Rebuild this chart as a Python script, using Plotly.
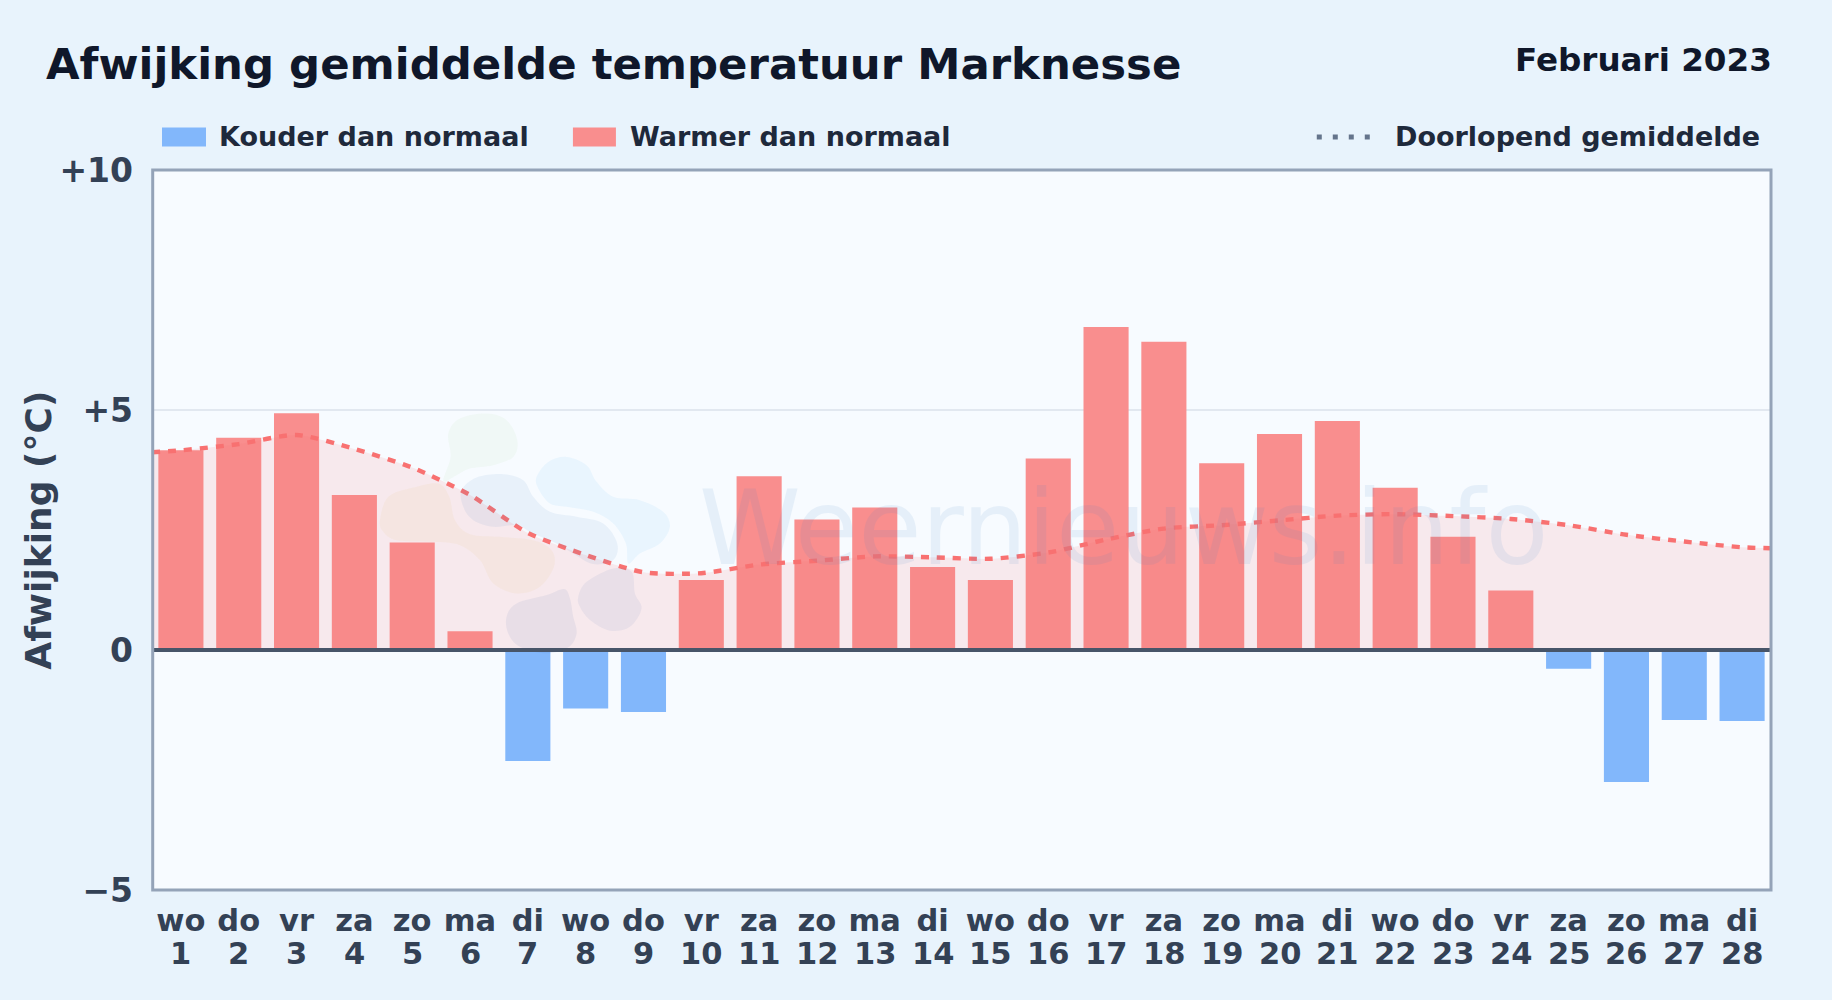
import plotly.graph_objects as go

dagen = ["wo","do","vr","za","zo","ma","di","wo","do","vr","za","zo","ma","di","wo","do","vr","za","zo","ma","di","wo","do","vr","za","zo","ma","di"]
nummers = list(range(1, 29))
afwijking = [4.16,4.42,4.93,3.23,2.24,0.39,-2.31,-1.22,-1.29,1.46,3.62,2.72,2.97,1.73,1.46,3.99,6.73,6.42,3.89,4.50,4.77,3.38,2.36,1.24,-0.39,-2.75,-1.46,-1.48]
lijn_x = [-0.5] + list(range(28)) + [27.5]
gemiddelde = [4.12,4.16,4.29,4.48,4.19,3.80,3.23,2.44,1.98,1.62,1.60,1.78,1.86,1.95,1.93,1.90,2.03,2.30,2.53,2.60,2.70,2.80,2.83,2.79,2.73,2.60,2.40,2.26,2.14,2.12]
y_ticks = [-5, 0, 5, 10]
y_labels = ["−5", "0", "+5", "+10"]

W, H = 1832, 1000
ML, MR, MT, MB = 152.0, 60.7, 169.5, 109.8
FONT = "DejaVu Sans"
# page pixels to plot-relative paper coordinates (decorations only)
def px(x): return (x - ML) / (W - ML - MR)
def py(y): return 1 - (y - MT) / (H - MT - MB)

warm = [v if v >= 0 else None for v in afwijking]
koud = [v if v < 0 else None for v in afwijking]
xs = list(range(28))

fig = go.Figure()
fig.add_trace(go.Bar(x=xs, y=warm, width=0.78, marker=dict(color="#f98e8e", line_width=0), name="Warmer dan normaal", showlegend=False))
fig.add_trace(go.Bar(x=xs, y=koud, width=0.78, marker=dict(color="#82b7fb", line_width=0), name="Kouder dan normaal", showlegend=False))
fig.add_trace(go.Scatter(x=lijn_x, y=gemiddelde, mode="lines", name="Doorlopend gemiddelde", showlegend=False,
                         line=dict(color="#f87171", width=4.4, dash="8px,8px", shape="spline", smoothing=0.7),
                         fill="tozeroy", fillcolor="rgba(248,113,113,0.13)"))

def blob(zoom_pts, fill):
    pts = [(360 + a / 3, 390 + b / 3) for a, b in zoom_pts]
    n = len(pts)
    d = f"M{px(pts[0][0]):.5f},{py(pts[0][1]):.5f}"
    for i in range(n):
        p0, p1, p2, p3 = pts[i - 1], pts[i], pts[(i + 1) % n], pts[(i + 2) % n]
        c1 = (p1[0] + (p2[0] - p0[0]) / 6, p1[1] + (p2[1] - p0[1]) / 6)
        c2 = (p2[0] - (p3[0] - p1[0]) / 6, p2[1] - (p3[1] - p1[1]) / 6)
        d += f" C{px(c1[0]):.5f},{py(c1[1]):.5f} {px(c2[0]):.5f},{py(c2[1]):.5f} {px(p2[0]):.5f},{py(p2[1]):.5f}"
    return dict(type="path", xref="paper", yref="paper", path=d + " Z", fillcolor=fill, line_width=0, layer="above")

shapes = [
    blob([(265,130),(300,85),(380,70),(440,90),(472,150),(460,200),(400,225),(330,235),(290,255),(250,272),(272,200)], "rgba(134,197,100,0.06)"),
    blob([(60,390),(85,320),(160,292),(235,280),(268,320),(285,390),(330,432),(420,440),(520,450),(575,480),(582,530),(540,590),(470,610),(400,580),(360,510),(300,465),(220,455),(110,450),(70,425)], "rgba(235,185,90,0.08)"),
    blob([(305,300),(350,262),(430,252),(490,270),(520,320),(570,365),(650,380),(730,400),(772,460),(760,510),(700,522),(640,490),(590,460),(520,430),(470,405),(400,410),(340,390),(310,350)], "rgba(59,130,190,0.08)"),
    blob([(530,260),(565,215),(620,200),(680,225),(710,275),(760,320),(840,330),(910,365),(930,410),(900,460),(840,490),(805,520),(798,460),(760,400),(700,365),(620,350),(570,340),(535,295)], "rgba(56,170,245,0.07)"),
    blob([(440,680),(470,640),(560,615),(612,597),(630,625),(640,680),(650,730),(625,772),(560,790),(480,770),(445,730)], "rgba(60,100,170,0.08)"),
    blob([(655,620),(680,575),(760,535),(815,545),(825,610),(845,655),(810,710),(750,722),(690,690),(660,650)], "rgba(60,100,170,0.07)"),
    dict(type="line", xref="paper", yref="y", x0=0, x1=1, y0=0, y1=0, line=dict(color="#475569", width=4), layer="above"),
    dict(type="rect", xref="paper", yref="paper", x0=px(152.7), x1=1, y0=0, y1=1, line=dict(color="#94a3b8", width=3), layer="above"),
    dict(type="rect", xref="paper", yref="paper", x0=px(162), x1=px(206), y0=py(146), y1=py(127), fillcolor="#82b7fb", line_width=0),
    dict(type="rect", xref="paper", yref="paper", x0=px(573), x1=px(616), y0=py(146), y1=py(127), fillcolor="#f98e8e", line_width=0),
    dict(type="line", xref="paper", yref="paper", x0=px(1317), x1=px(1374), y0=py(136.5), y1=py(136.5), line=dict(color="#64748b", width=5, dash="5px,11px")),
]

def note(text, x, y, size, color, anchor="left", weight="bold"):
    return dict(text=text, xref="paper", yref="paper", x=px(x), y=py(y), xanchor=anchor, yanchor="middle", showarrow=False,
                font=dict(family=FONT, size=size, color=color, weight=weight))

annotations = [
    note("Februari 2023", 1774.5, 59, 32.6, "#0f172a", "right"),
    note("Kouder dan normaal", 216.7, 136, 27, "#1e293b"),
    note("Warmer dan normaal", 627.7, 136, 27, "#1e293b"),
    note("Doorlopend gemiddelde", 1393.5, 136, 27, "#1e293b"),
]
y_titel = note("Afwijking (°C)", 38.5, 530, 36, "#334155", "center")
y_titel["textangle"] = -90
annotations.append(y_titel)
wm = note("Weernieuws.info", 1124, 528, 103, "#3b82c8", "center", "normal")
wm["opacity"] = 0.09
annotations.append(wm)
for i, n in zip(xs, nummers):
    annotations.append(dict(text=str(n), xref="x", yref="paper", x=i, y=py(954), xanchor="center", yanchor="middle", showarrow=False,
                            font=dict(family=FONT, size=30.5, color="#334155", weight="bold")))

fig.update_layout(
    width=W, height=H, autosize=False,
    margin=dict(l=ML, r=MR, t=MT, b=MB),
    paper_bgcolor="#e8f3fc", plot_bgcolor="#f7fbff",
    barmode="overlay", showlegend=False,
    font=dict(family=FONT),
    title=dict(text="Afwijking gemiddelde temperatuur Marknesse", x=46 / W, xanchor="left", xref="container",
               y=1 - 64 / H, yanchor="middle", yref="container",
               font=dict(family=FONT, size=43.4, color="#0f172a", weight="bold")),
    xaxis=dict(range=[-0.5, 27.5], tickmode="array", tickvals=xs, ticktext=dagen, ticks="", showgrid=False, zeroline=False,
               showline=False, ticklabelstandoff=9,
               tickfont=dict(family=FONT, size=30.5, color="#334155", weight="bold"), tickangle=0),
    yaxis=dict(range=[-5, 10], tickmode="array", tickvals=y_ticks, ticktext=y_labels, ticks="", showgrid=True, gridcolor="#e2e8f0", gridwidth=2,
               zeroline=False, showline=False, ticklabelstandoff=18,
               tickfont=dict(family=FONT, size=33, color="#334155", weight="bold")),
    shapes=shapes, annotations=annotations,
)

fig.write_html("out.html", config={"displayModeBar": False},
               post_script="document.body.style.margin='0';document.body.style.overflow='hidden';")
